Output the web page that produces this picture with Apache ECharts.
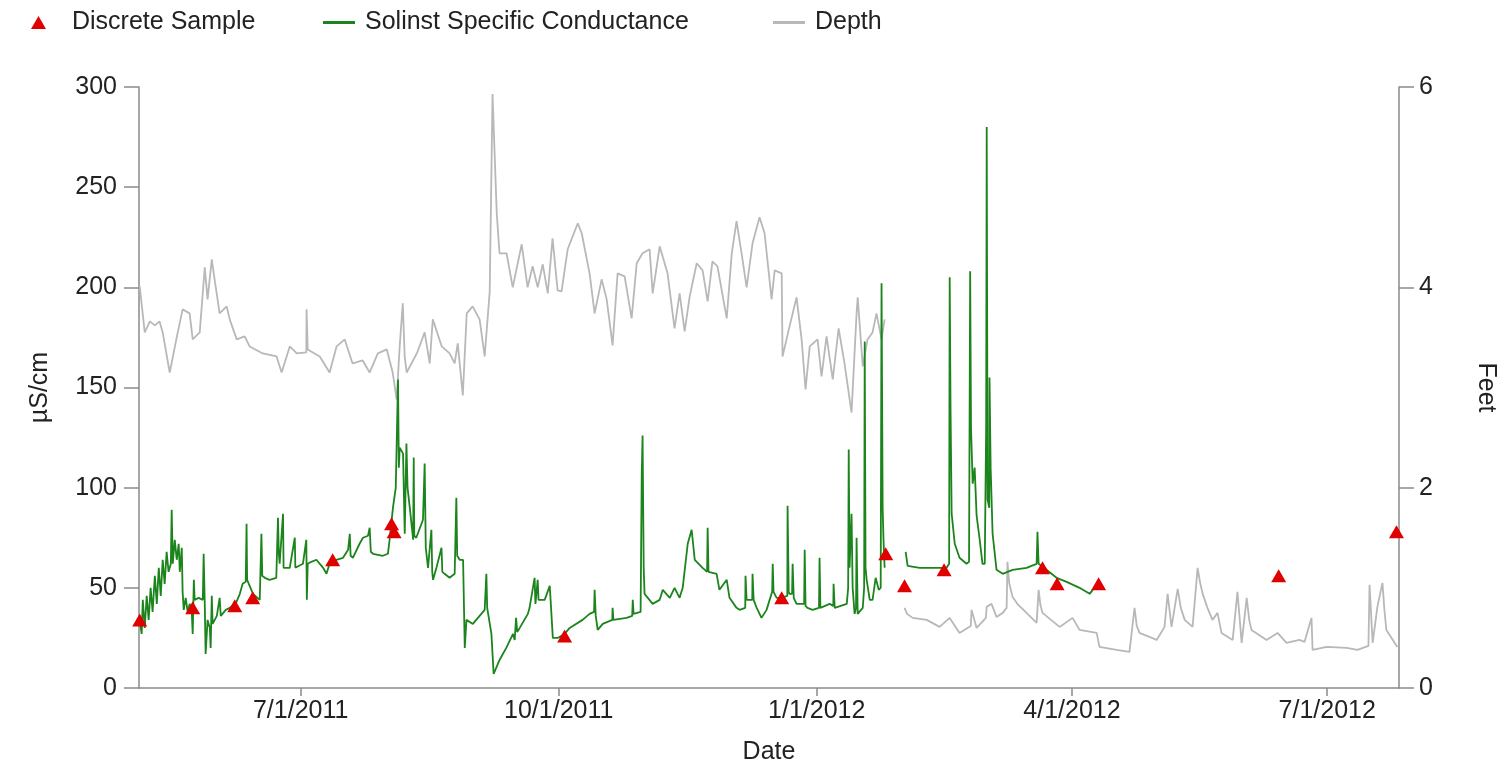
<!DOCTYPE html>
<html>
<head>
<meta charset="utf-8">
<script src="https://cdn.jsdelivr.net/npm/echarts@6/dist/echarts.min.js"></script>
<style>
html,body{margin:0;padding:0;background:#fff;}
#chart{width:1509px;height:764px;}
</style>
</head>
<body>
<div id="chart"></div>
<script>
// Day offsets are counted from this date (7/1/2011).
const baseDate = '2011-07-01';
const xRangeDays = [-57.65, 391.6];
const xTickDates = ['2011-07-01', '2011-10-01', '2012-01-01', '2012-04-01', '2012-07-01'];
const leftTicks = [0, 300, 50];
const rightTicks = [0, 6, 2];

// Solinst specific conductance (µS/cm): [day offset, value]
const condPart1 = [
[-57.4,34],[-56.7,27],[-56.3,44],[-55.6,30],[-54.9,46],[-54.2,34],[-53.5,50],[-52.8,38],[-52.0,56],[-51.3,42],
[-50.6,60],[-49.9,46],[-49.2,64],[-48.5,52],[-47.8,68],[-47.1,58],[-46.3,62],[-46.0,89],[-45.6,62],[-44.9,74],
[-44.2,64],[-43.5,72],[-43.1,58],[-42.4,70],[-42.1,48],[-41.7,39],[-41.0,45],[-40.3,38],[-39.6,42],[-38.9,40],
[-38.5,27],[-38.1,54],[-37.8,44],[-36.4,45],[-34.9,44],[-34.6,67],[-34.2,42],[-33.9,17],[-33.2,34],[-32.4,30],
[-32.1,20],[-31.7,46],[-31.4,32],[-29.9,36],[-28.9,45],[-28.5,36],[-26.7,39],[-25.3,40],[-23.2,42],[-21.7,47],
[-20.7,52],[-19.6,53],[-19.3,82],[-19.1,54],[-17.0,47],[-14.6,44],[-14.0,77],[-13.7,56],[-12.8,55],[-11.1,54],
[-8.7,55],[-8.1,85],[-7.8,67],[-7.5,62],[-6.3,87],[-6.1,60],[-3.9,60],[-2.1,75],[-1.9,60],[0.8,62],
[2.0,74],[2.2,44],[2.5,62],[3.8,63],[5.6,64],[8.0,60],[9.2,57],[10.3,62],[12.7,64],[15.1,65],
[16.9,69],[17.5,77],[17.8,66],[18.6,65],[21.0,72],[22.2,75],[24.0,76],[24.6,80],[25.0,68],[25.8,67],
[29.3,66],[31.1,67],[31.7,74],[32.9,90],[33.9,100],[34.7,154],[35.0,110],[35.3,120],[36.5,117],[37.1,77],
[37.7,122],[38.1,100],[38.9,90],[40.1,74],[40.3,115],[40.5,76],[41.2,75],[43.6,84],[44.2,112],[44.6,70],
[45.4,60],[46.6,79],[46.9,58],[47.2,54],[48.4,60],[50.2,70],[50.5,58],[51.3,57],[53.1,55],[54.9,57],
[55.5,95],[55.8,66],[56.7,64],[57.9,64],[58.5,20],[59.1,34],[61.4,32],[63.8,36],[65.6,39],[66.2,57],
[66.5,40],[68.0,27],[68.8,7],[70.9,14],[73.3,20],[75.7,27],[76.3,24],[76.8,35],[77.2,28],[78.1,30],
[81.0,37],[81.6,40],[83.4,55],[83.7,42],[84.5,54],[84.8,44],[87.0,44],[88.8,51],[89.1,44],[89.7,44],
[89.9,25],[91.6,25],[94.1,27],[95.9,30],[100.5,34],[103.0,37],[104.6,38],[104.8,49],[105.2,36],[105.9,29],
[107.7,32],[111.1,34],[111.2,40],[111.5,34],[116.2,35],[118.2,36],[118.4,44],[118.7,37],[121.2,38],[121.6,107],
[121.9,126],[122.3,60],[122.6,47],[125.5,42],[128.0,44],[129.1,49],[131.6,45],[133.3,50],[135.1,45],[136.2,50],
[138.0,72],[139.4,79],[140.5,64],[143.3,60],[144.9,58],[145.1,80],[145.4,58],[148.3,57],[149.3,49],[151.9,54],
[152.9,45],[155.4,40],[156.5,39],[158.5,40],[158.6,56],[159.0,44],[161.0,44],[161.1,57],[161.5,44],[162.6,40],
[164.3,35],[166.1,39],[168.1,48],[168.3,62],[168.6,48],[169.7,45],[171.5,45],[173.5,46],[173.6,91],[174.0,48],
[174.3,47],[175.2,47],[175.4,62],[175.8,45],[176.8,42],[179.5,42],[179.7,69],[180.0,41],[180.7,40],[182.5,39],
[184.8,40],[185.0,65],[185.3,40],[188.6,42],[189.9,41],[190.0,52],[190.4,40],[194.7,42],[195.2,50],[195.4,119],
[195.7,60],[196.4,87],[196.8,50],[197.5,37],[198.0,40],[198.2,75],[198.6,37],[200.4,40],[200.9,50],[201.1,173],
[201.4,60],[201.8,54],[202.9,44],[203.9,44],[205.0,55],[206.1,49],[206.8,50],[207.1,202],[207.5,90],[207.8,74],
[208.2,60]
];
const condPart2 = [
[215.7,68],[216.4,61],[220.7,60],[225.3,60],[230.3,60],[231.2,62],[231.4,205],[231.7,140],[232.1,87],[233.2,72],
[234.9,65],[237.4,62],[238.3,63],[238.7,208],[239.0,130],[239.6,102],[240.3,110],[241.0,86],[242.1,74],[243.1,62],
[243.9,62],[244.4,130],[244.6,280],[244.9,94],[245.5,90],[245.6,155],[246.0,110],[246.7,77],[248.1,59],[250.3,57],
[253.8,59],[258.8,60],[262.4,62],[262.7,78],[263.1,62],[265.9,59],[269.5,55],[273.1,53],[277.7,50],[281.3,47],
[282.4,49]
];

// Depth (feet): [day offset, value]
const depthPart1 = [
[-57.4,4.01],[-55.6,3.55],[-53.8,3.66],[-52.0,3.62],[-50.3,3.66],[-49.2,3.55],[-46.7,3.15],[-44.2,3.5],[-42.1,3.78],[-39.6,3.74],
[-38.5,3.48],[-36.0,3.55],[-34.2,4.2],[-33.2,3.88],[-31.7,4.28],[-30.7,4.08],[-28.9,3.74],[-26.4,3.81],[-25.3,3.68],[-22.8,3.48],
[-20.0,3.51],[-18.2,3.41],[-13.5,3.34],[-8.6,3.31],[-6.8,3.15],[-3.9,3.41],[-1.4,3.34],[2.0,3.35],[2.1,3.78],[2.5,3.38],
[6.8,3.31],[10.3,3.15],[12.8,3.41],[15.7,3.48],[18.5,3.24],[22.1,3.27],[24.6,3.15],[27.5,3.34],[30.7,3.38],[32.8,3.15],
[34.2,2.88],[35.3,3.41],[36.4,3.84],[37.1,3.3],[37.8,3.15],[41.4,3.34],[44.2,3.55],[46.0,3.24],[47.1,3.68],[50.3,3.41],
[53.1,3.34],[54.9,3.24],[56.0,3.44],[57.8,2.92],[59.2,3.74],[61.3,3.81],[63.8,3.68],[65.6,3.31],[67.4,3.96],[68.4,5.93],
[69.9,4.74],[70.9,4.34],[72.0,4.34],[73.4,4.34],[75.6,4.0],[78.8,4.43],[80.9,4.0],[82.7,4.21],[84.5,4.0],[86.3,4.23],
[88.1,3.94],[89.8,4.49],[91.6,3.97],[93.0,3.96],[95.2,4.38],[98.8,4.64],[100.2,4.54],[103.0,4.14],[104.8,3.74],[107.3,4.08],
[109.1,3.88],[111.2,3.42],[113.0,4.14],[115.5,4.11],[118.0,3.69],[119.8,4.24],[121.9,4.34],[124.4,4.38],[125.5,3.94],[128.0,4.41],
[130.8,4.14],[133.3,3.59],[135.1,3.94],[136.9,3.56],[138.7,3.91],[141.2,4.24],[143.3,4.17],[145.1,3.86],[146.8,4.26],[148.6,4.21],
[151.9,3.69],[153.7,4.34],[155.4,4.66],[157.2,4.34],[159.0,4.0],[161.1,4.44],[163.6,4.7],[165.4,4.54],[167.9,3.88],[169.0,4.17],
[171.5,4.14],[171.8,3.31],[174.3,3.61],[176.8,3.9],[178.6,3.48],[180.0,2.98],[181.5,3.41],[184.3,3.48],[185.7,3.11],[187.5,3.51],
[189.7,3.08],[191.8,3.59],[193.9,3.24],[196.4,2.75],[198.2,3.74],[198.6,3.9],[200.4,3.21],[202.1,3.48],[203.9,3.55],[205.3,3.74],
[207.1,3.48],[208.2,3.68]
];
const depthPart2 = [
[215.3,0.80],[216.2,0.74],[218.2,0.70],[223.2,0.68],[227.8,0.61],[231.4,0.70],[234.9,0.55],[238.9,0.62],[239.2,0.78],[241.0,0.60],
[244.3,0.70],[244.6,0.81],[246.3,0.84],[248.1,0.71],[250.3,0.75],[251.7,0.80],[252.0,1.26],[252.6,1.05],[253.8,0.91],[255.5,0.84],
[258.8,0.75],[262.4,0.65],[263.1,0.98],[263.8,0.82],[264.5,0.75],[267.5,0.68],[270.6,0.61],[275.2,0.70],[277.7,0.58],[283.8,0.55],
[284.8,0.41],[290.9,0.38],[295.5,0.36],[297.3,0.80],[298.1,0.62],[299.1,0.55],[305.2,0.48],[308.0,0.61],[309.1,0.94],[310.5,0.61],
[312.7,0.99],[313.8,0.80],[315.2,0.68],[318.0,0.61],[319.8,1.20],[320.7,1.05],[321.6,0.94],[323.3,0.80],[325.1,0.68],[326.9,0.75],
[328.3,0.55],[332.3,0.48],[334.0,0.96],[335.5,0.45],[337.3,0.90],[338.2,0.68],[339.0,0.58],[344.4,0.48],[348.3,0.55],[351.5,0.45],
[356.1,0.48],[357.9,0.46],[360.4,0.70],[360.8,0.38],[365.8,0.41],[372.9,0.40],[376.8,0.38],[380.7,0.42],[381.1,1.03],[382.2,0.45],
[383.9,0.81],[385.7,1.05],[386.4,0.78],[387.1,0.58],[391.0,0.41]
];

// Discrete samples (µS/cm): [day offset, value]
const samples = [
[-57.4,34],[-38.5,40],[-23.5,41],[-17.1,45],[11.4,64],[32.4,82],[33.3,78],[94.1,26],[171.5,45],
[208.6,67],[215.3,51],[229.4,59],[264.5,60],[269.7,52],[284.5,52],[348.7,56],[390.7,78]
];

const DAY = 86400000;
const base = Date.parse(baseDate);
const toT = d => base + d * DAY;
const toPts = arr => arr.map(p => [toT(p[0]), p[1]]);
const gap = (a, b) => [[toT((a[a.length - 1][0] + b[0][0]) / 2), '-']];
const condData = toPts(condPart1).concat(gap(condPart1, condPart2), toPts(condPart2));
const depthData = toPts(depthPart1).concat(gap(depthPart1, depthPart2), toPts(depthPart2));
const sampleData = toPts(samples);
const tickTimes = xTickDates.map(s => Date.parse(s));

const FONT = 'Liberation Sans, Arial, sans-serif';
const TXT = '#222';
const AX = '#8a8a8a';
const FS = 25;

const chart = echarts.init(document.getElementById('chart'), null, {renderer: 'canvas'});
const legendBase = {
  top: 5, orient: 'horizontal', selectedMode: false,
  textStyle: {color: TXT, fontSize: FS, fontFamily: FONT}
};
chart.setOption({
  backgroundColor: '#fff',
  animation: false,
  textStyle: {fontFamily: FONT},
  grid: {left: 139, right: 110, top: 87, bottom: 76, containLabel: false, outerBoundsMode: 'none'},
  legend: [
    Object.assign({}, legendBase, {left: 26, data: ['Discrete Sample'], icon: 'triangle', itemWidth: 15, itemHeight: 13,
      textStyle: {color: TXT, fontSize: FS, fontFamily: FONT, padding: [0, 0, 0, 21]}}),
    Object.assign({}, legendBase, {left: 318, data: ['Solinst Specific Conductance'], icon: 'rect', itemWidth: 32, itemHeight: 3,
      textStyle: {color: TXT, fontSize: FS, fontFamily: FONT, padding: [0, 0, 0, 5]}}),
    Object.assign({}, legendBase, {left: 768, data: ['Depth'], icon: 'rect', itemWidth: 32, itemHeight: 3,
      textStyle: {color: TXT, fontSize: FS, fontFamily: FONT, padding: [0, 0, 0, 5]}})
  ],
  xAxis: {
    type: 'value',
    min: toT(xRangeDays[0]), max: toT(xRangeDays[1]),
    axisLine: {show: true, lineStyle: {color: AX, width: 1.5}},
    axisTick: {show: true, length: 8, customValues: tickTimes, lineStyle: {color: AX, width: 1.5}},
    axisLabel: {
      customValues: tickTimes, color: TXT, fontSize: FS, fontFamily: FONT, margin: 11, hideOverlap: false,
      formatter: v => { const d = new Date(v); return (d.getUTCMonth() + 1) + '/' + d.getUTCDate() + '/' + d.getUTCFullYear(); }
    },
    splitLine: {show: false},
    name: 'Date', nameLocation: 'middle', nameGap: 52,
    nameTextStyle: {color: TXT, fontSize: FS, fontFamily: FONT}
  },
  yAxis: [
    {
      type: 'value', position: 'left', min: leftTicks[0], max: leftTicks[1], interval: leftTicks[2],
      axisLine: {show: true, lineStyle: {color: AX, width: 1.5}},
      axisTick: {show: true, length: 15, lineStyle: {color: AX, width: 1.5}},
      axisLabel: {color: TXT, fontSize: FS, fontFamily: FONT, margin: 22},
      splitLine: {show: false},
      name: 'µS/cm', nameLocation: 'middle', nameGap: 86, nameRotate: 90,
      nameTextStyle: {color: TXT, fontSize: FS, fontFamily: FONT}
    },
    {
      type: 'value', position: 'right', min: rightTicks[0], max: rightTicks[1], interval: rightTicks[2],
      axisLine: {show: true, lineStyle: {color: AX, width: 1.5}},
      axisTick: {show: true, length: 15, lineStyle: {color: AX, width: 1.5}},
      axisLabel: {color: TXT, fontSize: FS, fontFamily: FONT, margin: 20},
      splitLine: {show: false},
      name: 'Feet', nameLocation: 'middle', nameGap: 74, nameRotate: -90,
      nameTextStyle: {color: TXT, fontSize: FS, fontFamily: FONT}
    }
  ],
  series: [
    {
      name: 'Depth', type: 'line', yAxisIndex: 1, data: depthData, showSymbol: false, symbol: 'none',
      connectNulls: false, lineStyle: {color: '#b8b8b8', width: 1.8}, itemStyle: {color: '#b8b8b8'}, z: 1
    },
    {
      name: 'Solinst Specific Conductance', type: 'line', yAxisIndex: 0, data: condData, showSymbol: false, symbol: 'none',
      connectNulls: false, lineStyle: {color: '#1c841c', width: 1.8}, itemStyle: {color: '#1c841c'}, z: 2
    },
    {
      name: 'Discrete Sample', type: 'scatter', yAxisIndex: 0, data: sampleData, symbol: 'triangle', symbolSize: [15, 13],
      itemStyle: {color: '#e00000', opacity: 1}, z: 3
    }
  ]
});
</script>
</body>
</html>
